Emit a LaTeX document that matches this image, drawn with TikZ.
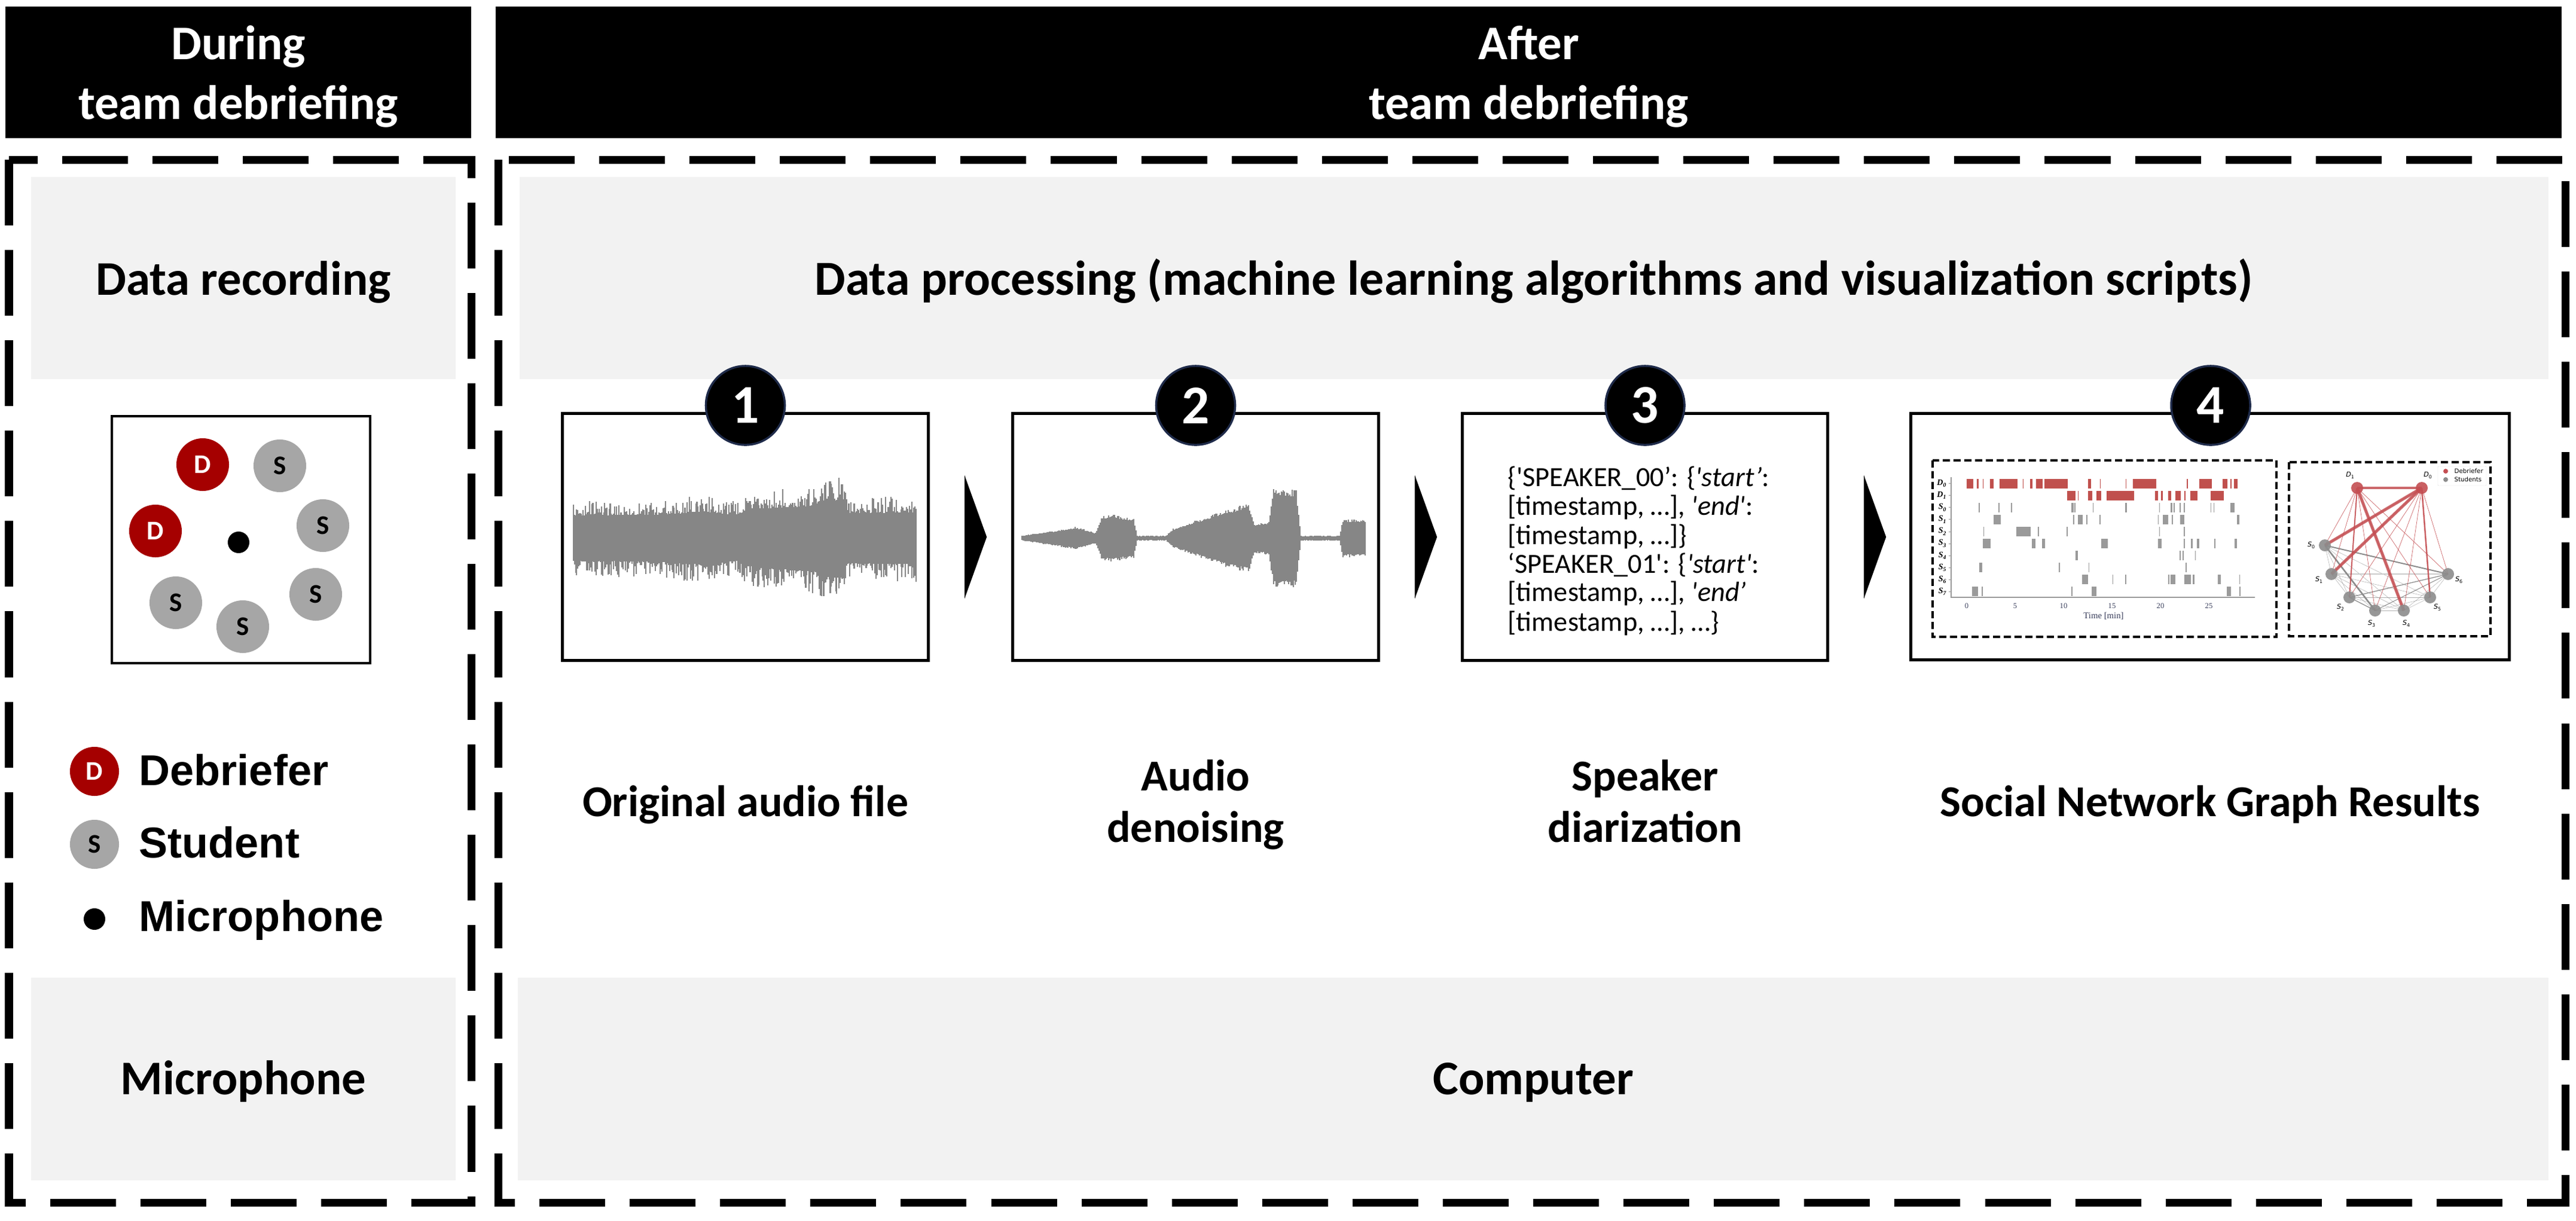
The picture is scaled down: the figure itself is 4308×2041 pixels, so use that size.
\documentclass[tikz,border=0pt]{standalone}
\usepackage{fontspec}
\setmainfont{Carlito}
\newfontfamily\arialf{Liberation Sans}
\newfontfamily\timesf{Liberation Serif}
\newfontfamily\dvs{DejaVu Sans}
\usetikzlibrary{calc}
\definecolor{boxgray}{HTML}{F2F2F2}
\definecolor{dred}{HTML}{A50000}
\definecolor{sgray}{HTML}{A6A6A6}
\definecolor{wavecol}{HTML}{868686}
\definecolor{navy}{HTML}{1F2B4A}
\definecolor{barred}{HTML}{C0504D}
\definecolor{bargray}{HTML}{9A9A9A}
\definecolor{netred}{HTML}{C44E52}
\definecolor{netgray}{HTML}{8C8C8C}
\definecolor{ticktext}{HTML}{3A3F5C}

% waveform: #1 centre y, #2 base fraction, #3 lower factor, #4 list xa/aa/xb/ab
\newcommand\mywave[4]{%
  \foreach \wa/\va/\wb/\vb in {#4} {%
    \pgfmathtruncatemacro\nn{max(1,(\wb-\wa)/1.8)}%
    \foreach \kk in {0,...,\nn} {%
      \pgfmathsetmacro\xx{\wa+(\wb-\wa)*\kk/\nn}%
      \pgfmathsetmacro\am{\va+(\vb-\va)*\kk/\nn}%
      \pgfmathsetmacro\rra{rnd}%
      \pgfmathsetmacro\rrb{rnd}%
      \pgfmathsetmacro\yup{#1-\am*(#2+(1-#2)*\rra*\rra)}%
      \pgfmathsetmacro\ydn{#1+#3*\am*(#2+(1-#2)*\rrb*\rrb)}%
      \draw[wavecol, line width=0.6pt] (\xx,\yup) -- (\xx,\ydn);%
    }%
  }%
}
% raster row: #1 y, #2 colour, #3 list of start/end minutes
\newcommand\rrow[3]{%
  \foreach \ta/\tb in {#3} {%
    \pgfmathsetmacro\xa{3289+16.2*\ta}%
    \pgfmathsetmacro\xb{3289+16.2*max(\tb,\ta+0.1)}%
    \fill[#2] (\xa,#1-8) rectangle (\xb,#1+8);%
  }%
}
\newcommand\sq{\textquotesingle}

\begin{document}
\begin{tikzpicture}[x=0.01cm,y=-0.01cm]
\tikzset{
  hdrbox/.style={fill=black, inner sep=0, outer sep=0},
  hdrtxt/.style={text=white, font=\fontsize{23}{28}\selectfont\bfseries, anchor=base, inner sep=0},
  graybox/.style={fill=boxgray, inner sep=0, outer sep=0},
  bigtxt/.style={font=\fontsize{23}{28}\selectfont\bfseries, anchor=base, inner sep=0},
  labtxt/.style={font=\fontsize{21}{25}\selectfont\bfseries, anchor=base, inner sep=0},
  bigdash/.style={line width=0.13cm, dash pattern=on 1.1cm off 0.41cm},
  procbox/.style={draw=black, line width=0.05cm, fill=white, inner sep=0, outer sep=0},
  badge/.style={circle, fill=black, draw=navy, line width=0.035cm, minimum size=1.32cm, inner sep=0, text=white, font=\fontsize{26}{30}\selectfont\bfseries},
  person/.style={circle, minimum size=0.88cm, inner sep=0, font=\fontsize{12.8}{14}\selectfont\bfseries},
  deb/.style={person, fill=dred, text=white},
  stu/.style={person, fill=sgray, text=black},
  micdot/.style={circle, fill=black, minimum size=0.36cm, inner sep=0},
  legtxt/.style={font=\fontsize{20.5}{24}\arialf\bfseries, anchor=base west, inner sep=0},
  spk/.style={font=\fontsize{13.2}{15}\selectfont, anchor=base west, inner sep=0},
  innerdash/.style={draw=black, line width=0.035cm, dash pattern=on 0.12cm off 0.06cm},
  rlab/.style={font=\timesf\fontsize{4}{5}\selectfont\bfseries\itshape, anchor=east, inner sep=0},
  ticklab/.style={font=\timesf\fontsize{3.6}{4}\selectfont, text=ticktext, inner sep=0},
  netnode/.style={circle, minimum size=0.2cm, inner sep=0, fill opacity=0.9},
  netlab/.style={font=\dvs\fontsize{3.2}{4}\selectfont, inner sep=0},
  thinred/.style={netred, line width=0.007cm, opacity=0.85},
  thingray/.style={netgray, line width=0.005cm, opacity=0.7}
}
\useasboundingbox (0,0) rectangle (4308,2041);
\fill[white] (0,0) rectangle (4308,2041);

% headers
\node[hdrbox, minimum width=7.79cm, minimum height=2.2cm] (hL) at (398.5,121) {};
\node[hdrbox, minimum width=34.53cm, minimum height=2.2cm] (hR) at (2556.5,121) {};
\node[hdrtxt] (hL1) at (398.5,99) {During};
\node[hdrtxt] (hL2) at (398.5,199) {team debriefing};
\node[hdrtxt] (hR1) at (2556.5,99) {After};
\node[hdrtxt] (hR2) at (2556.5,199) {team debriefing};

% dashed frames
\draw[bigdash] (15,267) rectangle (788,2011);
\draw[bigdash] (833,267) rectangle (4290,2011);

% grey bands
\node[graybox, minimum width=7.1cm, minimum height=3.38cm] (gDR) at (407,465) {};
\node[graybox, minimum width=33.91cm, minimum height=3.38cm] (gDP) at (2565.5,465) {};
\node[graybox, minimum width=7.1cm, minimum height=3.39cm] (gMic) at (407,1804.5) {};
\node[graybox, minimum width=33.94cm, minimum height=3.39cm] (gCo) at (2564,1804.5) {};
\node[bigtxt] (tDR) at (407,493) {Data recording};
\node[bigtxt, font=\fontsize{23.3}{28}\selectfont\bfseries] (tDP) at (2565,493) {Data processing (machine learning algorithms and visualization scripts)};
\node[bigtxt] (tMic) at (407,1830) {Microphone};
\node[bigtxt] (tCo) at (2564,1830) {Computer};

% room
\node[draw, line width=0.034cm, minimum width=4.32cm, minimum height=4.13cm, inner sep=0] (room) at (403,902.5) {};
\node[deb] (pD1) at (339,777) {D};
\node[stu] (pS1) at (468,779) {S};
\node[deb] (pD2) at (260,888) {D};
\node[stu] (pS2) at (540,879) {S};
\node[stu] (pS3) at (528,994) {S};
\node[stu] (pS4) at (406,1048) {S};
\node[stu] (pS5) at (294,1008) {S};
\node[micdot] (pMic) at (399,907) {};

% legend
\node[deb, minimum size=0.82cm] (legD) at (158,1290) {D};
\node[stu, minimum size=0.82cm] (legS) at (158,1412) {S};
\node[micdot] (legM) at (158,1537) {};
\node[legtxt] (tD) at (232,1313) {Debriefer};
\node[legtxt] (tS) at (232,1434) {Student};
\node[legtxt] (tM) at (232,1557) {Microphone};

% process boxes
\node[procbox, minimum width=6.11cm, minimum height=4.12cm] (b1) at (1246.5,898) {};
\node[procbox, minimum width=6.11cm, minimum height=4.12cm] (b2) at (1999.5,898) {};
\node[procbox, minimum width=6.10cm, minimum height=4.12cm] (b3) at (2751,898) {};
\node[procbox, minimum width=10.0cm, minimum height=4.12cm] (b4) at (3696,897.5) {};

% waveform 1
\pgfmathsetseed{7}
\mywave{898}{0.6}{1.1}{959/60/1100/62, 1100/62/1180/70, 1180/70/1230/60, 1230/60/1262/78, 1262/78/1340/84, 1340/84/1372/88, 1372/100/1414/104, 1414/66/1532/68}
% waveform 2
\mywave{900}{0.85}{1.0}{1709/4/1760/12, 1760/12/1800/19, 1800/19/1832/9, 1832/9/1842/34, 1842/38/1858/40, 1858/40/1896/34, 1896/34/1902/4, 1902/4/1950/4, 1950/4/1962/16, 1962/16/2000/30, 2000/30/2050/48, 2050/48/2088/58, 2088/58/2098/25, 2098/25/2122/28, 2122/28/2130/85, 2130/85/2168/82, 2168/82/2176/4, 2176/4/2240/4, 2240/4/2246/32, 2246/32/2283/32}

% diarization text
\node[spk] (sp1) at (2521,813) {\{\sq SPEAKER\_00’: \{\textit{\sq start’}:};
\node[spk] (sp2) at (2521,861) {[timestamp, …], \textit{\sq end\sq}:};
\node[spk] (sp3) at (2521,910) {[timestamp, …]\}};
\node[spk] (sp4) at (2521,958) {‘SPEAKER\_01\sq: \{\textit{\sq start\sq}:};
\node[spk] (sp5) at (2521,1005) {[timestamp, …], \textit{\sq end’}};
\node[spk] (sp6) at (2521,1055) {[timestamp, …], …\}};

% box 4: raster plot
\draw[innerdash] (3232,770) rectangle (3807,1065);
\rrow{808.5}{barred}{0/0.69, 1.04/1.26, 1.65/1.73, 2.39/2.75, 3.38/5.22, 5.77/5.88, 6.54/6.79, 7.14/7.83, 8.02/10.44, 12.53/12.83, 13.74/13.79, 16.4/16.46, 17.17/19.59, 22.72/22.8, 24.01/25.33, 26.4/26.92, 27.25/27.34, 27.6/27.97}
\rrow{828.6}{barred}{10.38/11.21, 11.46/11.57, 12.5/12.97, 13.38/13.9, 14.45/17.31, 19.45/19.73, 20.05/20.27, 20.82/21.1, 21.51/22.12, 22.47/22.55, 23.08/23.85, 25.16/26.51}
\rrow{848.7}{bargray}{1.24/1.37, 3.3/3.35, 4.56/4.62, 10.82/11.04, 11.1/11.21, 13/13.05, 16.35/16.57, 19.86/19.92, 21.07/21.24, 21.37/21.48, 22/22.09, 22.42/22.53, 25.16/25.25, 25.47/25.55, 27.25/27.64}
\rrow{868.8}{bargray}{2.75/3.49, 10.99/11.07, 11.48/11.98, 12.36/12.44, 13.71/13.79, 19.73/19.81, 20.22/20.82, 21.15/21.29, 22.03/22.47, 27.88/28.13}
\rrow{888.9}{bargray}{1.7/1.79, 5.14/6.59, 7.36/7.45, 10.33/10.41, 19.86/19.92, 22.42/22.5}
\rrow{909}{bargray}{1.68/2.45, 6.73/7.12, 7.8/8.1, 13.87/14.56, 19.78/20.14, 22.42/22.5, 23.13/23.35, 23.76/24.04, 25.55/25.69, 27.64/27.88}
\rrow{929.1}{bargray}{11.21/11.48, 21.98/22.03, 22.31/22.39, 23.57/23.63}
\rrow{949.2}{bargray}{1.32/1.62, 9.51/9.56, 12.58/12.64, 22.61/22.69}
\rrow{969.3}{bargray}{11.92/12.5, 15.05/15.11, 16.35/16.4, 20.8/20.88, 21.04/21.21, 21.26/21.54, 22.47/23.13, 23.35/23.54, 25.91/26.26, 28.13/28.21}
\rrow{989.4}{bargray}{0.55/1.15, 1.57/1.68, 10.82/10.9, 12.88/13.41, 26.84/27.28, 28.15/28.21}
\draw[bargray, line width=0.012cm] (3263,798) -- (3263,999) -- (3771,999);
\foreach \yy/\nm/\lab in {808.5/D0/D\textsubscript{0}, 828.6/D1/D\textsubscript{1}, 848.7/S0/S\textsubscript{0}, 868.8/S1/S\textsubscript{1}, 888.9/S2/S\textsubscript{2}, 909/S3/S\textsubscript{3}, 929.1/S4/S\textsubscript{4}, 949.2/S5/S\textsubscript{5}, 969.3/S6/S\textsubscript{6}, 989.4/S7/S\textsubscript{7}} {
  \draw[bargray, line width=0.008cm] (3259,\yy) -- (3263,\yy);
  \node[rlab] (r\nm) at (3257,\yy) {\lab};
}
\foreach \tk in {0,5,10,15,20,25} {
  \node[ticklab] (tk\tk) at ({3289+16.2*\tk},1013) {\tk};
}
\node[ticklab, font=\timesf\fontsize{4.2}{5}\selectfont] (tTime) at (3518,1030) {Time [min]};

% box 4: network graph
\draw[innerdash] (3828,773) rectangle (4165,1064);
\coordinate (nD1) at (3942,816);
\coordinate (nD0) at (4050,816);
\coordinate (nS0) at (3888,912);
\coordinate (nS1) at (3899,960);
\coordinate (nS2) at (3929,999);
\coordinate (nS3) at (3972,1021);
\coordinate (nS4) at (4020,1021);
\coordinate (nS5) at (4064,999);
\coordinate (nS6) at (4094,960);
\foreach \i in {0,...,5} {
  \pgfmathtruncatemacro\jj{\i+1}
  \foreach \j in {\jj,...,6} { \draw[thingray] (nS\i) -- (nS\j); }
}
\draw[netgray!45, line width=0.012cm] (nS1) -- (nS6);
\draw[netgray, line width=0.02cm] (nS0) -- (nS6);
\draw[netgray, line width=0.026cm] (nS0) -- (nS3);
\draw[netgray, line width=0.012cm] (nS2) -- (nS6);
\draw[netgray, line width=0.012cm] (nS2) -- (nS3);
\draw[netgray, line width=0.009cm] (nS3) -- (nS6);
\foreach \i in {0,...,6} {
  \draw[thinred] (nD0) -- (nS\i);
  \draw[thinred] (nD1) -- (nS\i);
}
\draw[netred, line width=0.045cm, opacity=0.85] (nD1) -- (nD0);
\draw[netred, line width=0.05cm, opacity=0.85] (nD0) -- (nS0);
\draw[netred, line width=0.05cm, opacity=0.85] (nD0) -- (nS1);
\draw[netred, line width=0.05cm, opacity=0.85] (nD1) -- (nS4);
\draw[netred, line width=0.025cm, opacity=0.85] (nD0) -- (nS5);
\draw[netred, line width=0.02cm, opacity=0.85] (nD1) -- (nS2);
\node[netnode, fill=netred] (gD0) at (nD0) {};
\node[netnode, fill=netred] (gD1) at (nD1) {};
\foreach \i in {0,...,6} { \node[netnode, fill=netgray] (gS\i) at (nS\i) {}; }
\node[netlab] (lgD1) at (3931,795) {\textit{D}\textsubscript{1}};
\node[netlab] (lgD0) at (4061,795) {\textit{D}\textsubscript{0}};
\node[netlab] (lgS0) at (3866,912) {\textit{S}\textsubscript{0}};
\node[netlab] (lgS1) at (3879,970) {\textit{S}\textsubscript{1}};
\node[netlab] (lgS2) at (3915,1016) {\textit{S}\textsubscript{2}};
\node[netlab] (lgS3) at (3967,1043) {\textit{S}\textsubscript{3}};
\node[netlab] (lgS4) at (4025,1043) {\textit{S}\textsubscript{4}};
\node[netlab] (lgS5) at (4077,1016) {\textit{S}\textsubscript{5}};
\node[netlab] (lgS6) at (4113,970) {\textit{S}\textsubscript{6}};
\draw[black!15, fill=white, line width=0.004cm, rounded corners=0.01cm] (4077,780) rectangle (4158,812);
\fill[netred] (4090,788) circle[radius=0.04cm];
\fill[netgray] (4090,802) circle[radius=0.04cm];
\node[netlab, anchor=west, font=\dvs\fontsize{2.9}{4}\selectfont] (lgLd) at (4104,788) {Debriefer};
\node[netlab, anchor=west, font=\dvs\fontsize{2.9}{4}\selectfont] (lgLs) at (4104,802) {Students};

% step badges
\node[badge] (n1) at (1246.5,678) {1};
\node[badge] (n2) at (1999.5,678) {2};
\node[badge] (n3) at (2751,678) {3};
\node[badge] (n4) at (3697,678) {4};

% arrows between steps
\foreach \bx in {b1,b2,b3} {
  \fill ($(\bx.east)+(61,-103)$) -- ($(\bx.east)+(98,0)$) -- ($(\bx.east)+(61,103)$) -- cycle;
}

% step labels
\node[labtxt] (l1) at (1246.5,1365) {Original audio file};
\node[labtxt] (l2a) at (1999.5,1322) {Audio};
\node[labtxt] (l2b) at (1999.5,1408) {denoising};
\node[labtxt] (l3a) at (2751,1322) {Speaker};
\node[labtxt] (l3b) at (2751,1408) {diarization};
\node[labtxt] (l4) at (3696,1365) {Social Network Graph Results};
\end{tikzpicture}
\end{document}
